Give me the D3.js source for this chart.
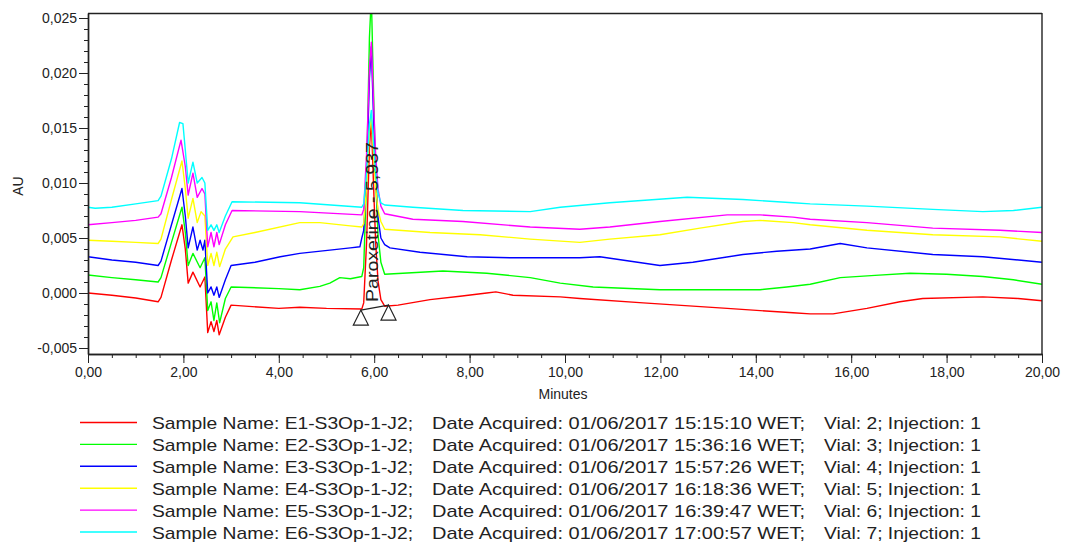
<!DOCTYPE html>
<html>
<head>
<meta charset="utf-8">
<script src="https://cdn.jsdelivr.net/npm/d3@7"></script>
<style>
  body { margin: 0; background: #fff; }
  svg { font-family: Arial, "Liberation Sans", sans-serif; }
  .axis text { font-size: 14px; fill: #222; }
  .axis path, .axis line { stroke: #222; }
</style>
</head>
<body>
<svg id="chart" width="1066" height="545"></svg>
<script>
// [minutes, AU]
var e1 = [[0,0.0000],[0.5,-0.0002],[1.0,-0.00045],[1.47,-0.0008],[1.53,-0.0004],[1.75,0.0030],[1.97,0.0062],[2.04,0.0040],[2.10,0.0009],[2.20,0.0019],[2.35,0.00055],[2.45,0.00145],[2.51,-0.0036],[2.58,-0.0026],[2.64,-0.0035],[2.70,-0.0025],[2.75,-0.0038],[2.88,-0.0022],[3.00,-0.0011],[4.0,-0.0014],[4.44,-0.0013],[5.0,-0.0014],[5.74,-0.00145],
  [5.78,-0.0009],[5.84,0.0046],[5.90,0.0132],[5.94,0.0158],[5.98,0.0106],[6.03,0.0046],[6.08,0.0011],[6.14,-0.0006],[6.22,-0.0012],
  [6.5,-0.0011],[7.17,-0.0006],[7.8,-0.0003],[8.36,0.0000],[8.55,0.0001],[8.91,-0.0002],[9.9,-0.00035],[10.31,-0.0005],[11.64,-0.0009],[13.40,-0.0014],[14.78,-0.0018],[15.14,-0.0019],[15.62,-0.0019],[16.33,-0.0014],[17.02,-0.0008],[17.5,-0.0005],[18.76,-0.00035],[19.5,-0.0005],[20.0,-0.0007]];

var e2 = [[0,0.00164],[0.5,0.0014],[1.0,0.0012],[1.47,0.0010],[1.53,0.0014],[1.75,0.0046],[1.97,0.0078],[2.04,0.0055],[2.10,0.0025],[2.20,0.0036],[2.35,0.0023],[2.45,0.0032],[2.51,-0.0016],[2.58,-0.0008],[2.64,-0.0025],[2.70,-0.0009],[2.76,-0.0027],[2.88,-0.0005],[3.0,0.00055],[4.0,0.0004],[4.44,0.0003],[4.86,0.0006],[5.07,0.0009],[5.28,0.0014],[5.5,0.0013],[5.74,0.0015],
  [5.78,0.0023],[5.84,0.0104],[5.90,0.0232],[5.94,0.0270],[5.98,0.0194],[6.03,0.0104],[6.08,0.0053],[6.14,0.0028],[6.22,0.0017],
  [6.6,0.0018],[7.44,0.0020],[8.36,0.0018],[9.27,0.0014],[9.9,0.0009],[10.59,0.00055],[11.99,0.0003],[13.4,0.0003],[14.09,0.0003],[14.65,0.00055],[15.14,0.0008],[15.77,0.0014],[16.5,0.0016],[17.23,0.0018],[18.0,0.0017],[18.76,0.0015],[19.4,0.0012],[20.0,0.0008]];

var e3 = [[0,0.0033],[0.5,0.0030],[1.0,0.0028],[1.47,0.0025],[1.53,0.0029],[1.75,0.0062],[1.97,0.0095],[2.04,0.0070],[2.10,0.0041],[2.20,0.0060],[2.29,0.0039],[2.35,0.0048],[2.41,0.0039],[2.45,0.0048],[2.51,0.0000],[2.58,0.00055],[2.64,-0.0002],[2.70,0.00055],[2.75,-0.0004],[2.88,0.0012],[3.0,0.0025],[3.5,0.0028],[4.03,0.0033],[4.44,0.0036],[5.07,0.0039],[5.5,0.0041],[5.70,0.0042],
  [5.74,0.0050],[5.78,0.0057],[5.84,0.0105],[5.90,0.0195],[5.94,0.0224],[5.98,0.0168],[6.03,0.0107],[6.08,0.0069],[6.14,0.0050],[6.22,0.0044],
  [6.33,0.0041],[6.96,0.0037],[7.95,0.0033],[8.91,0.0032],[10.31,0.0032],[10.73,0.0033],[11.99,0.0025],[12.68,0.0028],[13.73,0.0035],[14.44,0.0038],[15.14,0.0040],[15.77,0.0045],[16.33,0.0041],[17.71,0.0035],[18.76,0.0033],[20.0,0.0028]];

var e4 = [[0,0.0048],[0.5,0.0047],[1.0,0.0046],[1.47,0.0045],[1.53,0.0049],[1.75,0.0085],[1.97,0.0120],[2.04,0.0095],[2.10,0.0068],[2.20,0.0086],[2.29,0.0064],[2.37,0.0074],[2.45,0.0070],[2.51,0.0025],[2.58,0.0036],[2.64,0.0025],[2.70,0.0037],[2.76,0.0024],[2.88,0.0040],[3.04,0.0051],[3.5,0.0055],[4.44,0.0064],[4.86,0.0064],[5.5,0.0061],[5.74,0.0060],
  [5.78,0.0063],[5.84,0.0096],[5.90,0.0147],[5.94,0.0162],[5.98,0.0131],[6.03,0.0096],[6.08,0.0075],[6.14,0.0065],[6.22,0.0058],
  [7.17,0.0055],[8.22,0.0053],[9.27,0.0049],[10.31,0.0046],[10.94,0.0049],[11.99,0.0053],[12.83,0.0059],[13.73,0.0065],[14.09,0.0066],[14.78,0.0064],[15.14,0.0062],[16.33,0.0057],[17.71,0.0053],[19.12,0.0051],[20.0,0.0047]];

var e5 = [[0,0.0062],[0.5,0.0064],[1.0,0.0066],[1.47,0.0069],[1.53,0.0072],[1.75,0.0105],[1.95,0.0139],[2.04,0.0115],[2.10,0.0089],[2.20,0.0109],[2.29,0.0087],[2.39,0.0095],[2.45,0.0090],[2.51,0.0042],[2.58,0.0055],[2.64,0.0042],[2.70,0.0055],[2.75,0.0044],[2.88,0.0062],[3.02,0.0075],[4.44,0.0074],[5.74,0.0071],
  [5.78,0.0076],[5.84,0.0126],[5.90,0.0204],[5.94,0.0228],[5.98,0.0181],[6.03,0.0126],[6.08,0.0095],[6.14,0.0079],[6.22,0.0072],
  [6.81,0.0067],[7.86,0.0065],[9.27,0.0060],[10.31,0.0058],[10.94,0.0060],[11.99,0.0065],[13.4,0.0071],[14.09,0.0071],[14.78,0.0069],[15.14,0.0067],[16.33,0.0064],[17.71,0.0059],[19.12,0.0057],[20.0,0.0055]];

var e6 = [[0,0.0078],[0.15,0.0077],[0.5,0.0078],[1.0,0.0081],[1.47,0.0084],[1.53,0.0088],[1.75,0.0122],[1.92,0.0155],[1.99,0.0154],[2.04,0.0130],[2.10,0.0100],[2.20,0.0119],[2.29,0.0100],[2.39,0.0105],[2.45,0.0100],[2.51,0.0057],[2.58,0.0062],[2.64,0.0057],[2.70,0.0062],[2.75,0.0055],[2.88,0.0070],[3.02,0.0083],[4.44,0.0082],[5.74,0.0078],
  [5.78,0.0081],[5.84,0.0109],[5.90,0.0153],[5.94,0.0166],[5.98,0.0140],[6.03,0.0109],[6.08,0.0091],[6.14,0.0082],[6.22,0.0080],
  [6.81,0.0078],[7.86,0.0075],[9.27,0.0074],[9.9,0.0078],[10.94,0.0082],[12.56,0.0087],[13.73,0.0085],[14.78,0.0082],[15.14,0.0081],[16.33,0.0079],[17.71,0.0076],[18.76,0.0074],[19.4,0.0075],[20.0,0.0078]];

var sampleNames = ["E1-S3Op-1-J2", "E2-S3Op-1-J2", "E3-S3Op-1-J2", "E4-S3Op-1-J2", "E5-S3Op-1-J2", "E6-S3Op-1-J2"];
var acquired = ["01/06/2017 15:15:10 WET", "01/06/2017 15:36:16 WET", "01/06/2017 15:57:26 WET", "01/06/2017 16:18:36 WET", "01/06/2017 16:39:47 WET", "01/06/2017 17:00:57 WET"];
var vials = [2, 3, 4, 5, 6, 7];
var colors = ["#ff0000", "#00ff00", "#0000ff", "#ffff00", "#ff00ff", "#00ffff"];

var xTicks = [0, 2, 4, 6, 8, 10, 12, 14, 16, 18, 20];
var yTicks = [-0.005, 0, 0.005, 0.010, 0.015, 0.020, 0.025];

// integration marks for the Paroxetine peak (start / end of baseline)
var peakLabel = "Paroxetine - 5,937";
var peakRT = 5.937;
var baseMarks = [[5.72, -0.00155], [6.30, -0.0011]];

var series = [e1, e2, e3, e4, e5, e6];

var svg = d3.select("#chart");
var plotL = 88, plotR = 1042, plotT = 13, plotB = 354;

var xScale = d3.scaleLinear().domain([0, 20]).range([plotL, plotR]);
var yScale = d3.scaleLinear().domain([-0.005545, 0.025455]).range([plotB, plotT]);

var loc = d3.formatLocale({decimal: ",", thousands: ".", grouping: [3], currency: ["", ""], minus: "-"});
var fx = loc.format(".2f"), fy = loc.format(".3f");

svg.append("clipPath").attr("id", "plotclip")
  .append("rect").attr("x", plotL).attr("y", plotT).attr("width", plotR - plotL).attr("height", plotB - plotT);

// traces
var line = d3.line()
  .x(function(d) { return xScale(d[0]); })
  .y(function(d) { return yScale(d[1]); });

var traces = svg.append("g").attr("clip-path", "url(#plotclip)");
for (var i = 0; i < series.length; i++) {
  traces.append("path")
    .attr("d", line(series[i]))
    .attr("fill", "none")
    .attr("stroke", colors[i])
    .attr("stroke-width", 1.4)
    .attr("stroke-linejoin", "round");
}

// frame
svg.append("line").attr("x1", plotL).attr("x2", plotR).attr("y1", plotT + 0.5).attr("y2", plotT + 0.5).attr("stroke", "#222").attr("stroke-width", 1.4);
svg.append("line").attr("x1", plotR).attr("x2", plotR).attr("y1", plotT).attr("y2", plotB).attr("stroke", "#222").attr("stroke-width", 1.4);

// minor ticks
svg.append("g").attr("class", "axis").attr("transform", "translate(0," + plotB + ")")
  .call(d3.axisBottom(xScale).tickValues(d3.range(0, 20.01, 0.5)).tickSize(4).tickFormat("").tickSizeOuter(0));
svg.append("g").attr("class", "axis").attr("transform", "translate(" + plotL + ",0)")
  .call(d3.axisLeft(yScale).tickValues(d3.range(-0.005, 0.0251, 0.001)).tickSize(4).tickFormat("").tickSizeOuter(0));

// major ticks with labels
svg.append("g").attr("class", "axis").attr("transform", "translate(0," + plotB + ")")
  .call(d3.axisBottom(xScale).tickValues(xTicks).tickSize(9).tickPadding(4).tickFormat(fx).tickSizeOuter(0));
svg.append("g").attr("class", "axis").attr("transform", "translate(" + plotL + ",0)")
  .call(d3.axisLeft(yScale).tickValues(yTicks).tickSize(9).tickPadding(2).tickFormat(fy).tickSizeOuter(0));
svg.selectAll(".axis path.domain").attr("stroke-width", 1.4);

svg.append("text").attr("x", 563).attr("y", 399).attr("text-anchor", "middle")
  .attr("font-size", 14).attr("fill", "#222").text("Minutes");
svg.append("text").attr("transform", "translate(23,186) rotate(-90)").attr("text-anchor", "middle")
  .attr("font-size", 14).attr("fill", "#222").text("AU");

// peak annotation
svg.append("text")
  .attr("transform", "translate(" + (xScale(peakRT) + 7) + "," + (yScale(baseMarks[0][1]) - 8) + ") rotate(-90)")
  .attr("font-size", 17).attr("fill", "#222")
  .attr("textLength", 160).attr("lengthAdjust", "spacingAndGlyphs")
  .text(peakLabel);

svg.append("path")
  .attr("d", line(baseMarks))
  .attr("fill", "none").attr("stroke", "#222").attr("stroke-width", 1.2);

svg.selectAll(".tri").data(baseMarks).enter().append("path")
  .attr("class", "tri")
  .attr("transform", function(d) { return "translate(" + xScale(d[0]) + "," + yScale(d[1]) + ")"; })
  .attr("d", "M0,0 L7.5,15 L-7.5,15 Z")
  .attr("fill", "white").attr("stroke", "#222").attr("stroke-width", 1.2);

// legend
var legend = svg.append("g").attr("font-size", 17).attr("fill", "#222");
for (var j = 0; j < series.length; j++) {
  var ly = 422.5 + j * 21.9;
  legend.append("line").attr("x1", 80).attr("x2", 137).attr("y1", ly).attr("y2", ly)
    .attr("stroke", colors[j]).attr("stroke-width", 1.4);
  legend.append("text").attr("x", 152).attr("y", ly + 6.5)
    .attr("textLength", 261).attr("lengthAdjust", "spacingAndGlyphs")
    .text("Sample Name: " + sampleNames[j] + ";");
  legend.append("text").attr("x", 432).attr("y", ly + 6.5)
    .attr("textLength", 373).attr("lengthAdjust", "spacingAndGlyphs")
    .text("Date Acquired: " + acquired[j] + ";");
  legend.append("text").attr("x", 824).attr("y", ly + 6.5)
    .attr("textLength", 157).attr("lengthAdjust", "spacingAndGlyphs")
    .text("Vial: " + vials[j] + "; Injection: 1");
}
</script>
</body>
</html>
